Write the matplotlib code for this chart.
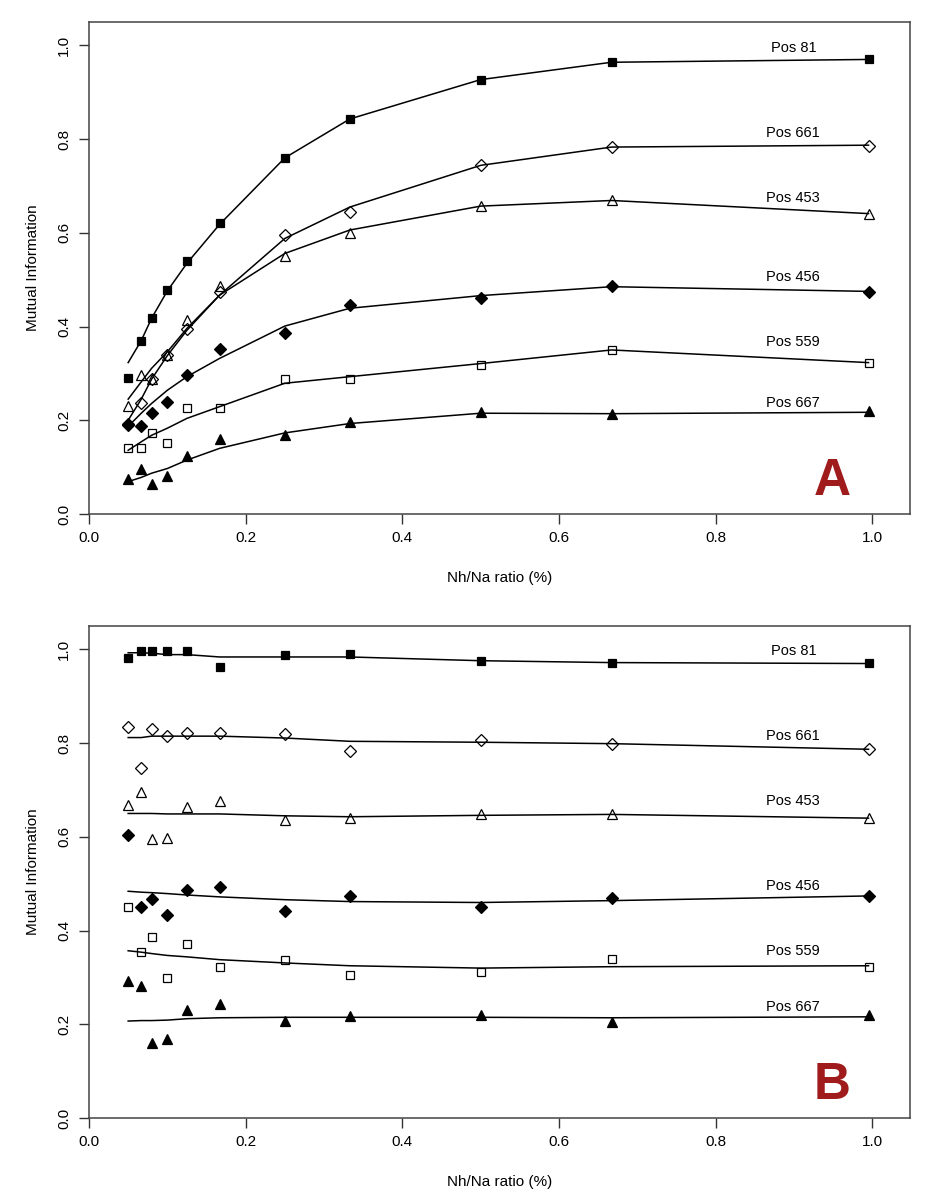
import matplotlib.pyplot as plt

plt.rcParams['font.family'] = ['Liberation Sans', 'DejaVu Sans']

# x positions (Nh/Na ratio)
ratio = [0.05, 0.0667, 0.08, 0.1, 0.125, 0.1667, 0.25, 0.333, 0.5, 0.667, 0.995]

names = ['Pos 81', 'Pos 661', 'Pos 453', 'Pos 456', 'Pos 559', 'Pos 667']

# panel A - observed points
a_pos81 = [0.291, 0.370, 0.419, 0.478, 0.540, 0.621, 0.760, 0.843, 0.927, 0.964, 0.970]
a_pos661 = [0.193, 0.236, 0.288, 0.339, 0.394, 0.474, 0.595, 0.644, 0.744, 0.783, 0.786]
a_pos453 = [0.231, 0.296, 0.288, 0.339, 0.414, 0.487, 0.550, 0.600, 0.657, 0.669, 0.641]
a_pos456 = [0.190, 0.188, 0.215, 0.238, 0.297, 0.351, 0.387, 0.447, 0.460, 0.487, 0.474]
a_pos559 = [0.141, 0.141, 0.172, 0.152, 0.226, 0.227, 0.289, 0.289, 0.317, 0.350, 0.323]
a_pos667 = [0.074, 0.095, 0.063, 0.080, 0.124, 0.159, 0.168, 0.197, 0.218, 0.213, 0.220]

# panel A - fitted curves
a_fit81 = [0.323, 0.370, 0.418, 0.476, 0.535, 0.618, 0.760, 0.843, 0.927, 0.964, 0.970]
a_fit661 = [0.200, 0.245, 0.288, 0.338, 0.392, 0.467, 0.588, 0.655, 0.744, 0.783, 0.787]
a_fit453 = [0.245, 0.282, 0.311, 0.346, 0.396, 0.467, 0.556, 0.606, 0.657, 0.669, 0.641]
a_fit456 = [0.187, 0.215, 0.236, 0.264, 0.293, 0.332, 0.401, 0.439, 0.466, 0.485, 0.475]
a_fit559 = [0.136, 0.154, 0.168, 0.183, 0.204, 0.229, 0.279, 0.293, 0.321, 0.350, 0.323]
a_fit667 = [0.069, 0.078, 0.087, 0.097, 0.115, 0.140, 0.173, 0.193, 0.215, 0.214, 0.217]

# panel B - observed points
b_pos81 = [0.982, 0.996, 0.996, 0.996, 0.996, 0.962, 0.989, 0.991, 0.976, 0.972, 0.972]
b_pos661 = [0.834, 0.748, 0.830, 0.816, 0.822, 0.822, 0.819, 0.783, 0.807, 0.798, 0.787]
b_pos453 = [0.669, 0.695, 0.595, 0.597, 0.664, 0.677, 0.635, 0.641, 0.649, 0.649, 0.640]
b_pos456 = [0.603, 0.450, 0.467, 0.433, 0.487, 0.493, 0.442, 0.474, 0.451, 0.469, 0.474]
b_pos559 = [0.451, 0.354, 0.386, 0.298, 0.372, 0.323, 0.338, 0.305, 0.311, 0.340, 0.323]
b_pos667 = [0.293, 0.282, 0.160, 0.169, 0.231, 0.243, 0.207, 0.218, 0.220, 0.206, 0.220]

# panel B - fitted curves
b_fit81 = [0.993, 0.993, 0.992, 0.989, 0.989, 0.984, 0.984, 0.984, 0.976, 0.972, 0.970]
b_fit661 = [0.812, 0.812, 0.815, 0.815, 0.815, 0.815, 0.811, 0.804, 0.802, 0.799, 0.787]
b_fit453 = [0.650, 0.650, 0.650, 0.649, 0.649, 0.649, 0.645, 0.643, 0.646, 0.648, 0.640]
b_fit456 = [0.484, 0.482, 0.481, 0.479, 0.476, 0.472, 0.466, 0.462, 0.460, 0.464, 0.474]
b_fit559 = [0.357, 0.354, 0.351, 0.347, 0.344, 0.338, 0.331, 0.325, 0.320, 0.323, 0.325]
b_fit667 = [0.207, 0.208, 0.208, 0.209, 0.212, 0.214, 0.215, 0.215, 0.215, 0.214, 0.216]

# label heights
a_label_y = [0.995, 0.814, 0.674, 0.506, 0.366, 0.236]
b_label_y = [0.996, 0.816, 0.676, 0.496, 0.357, 0.236]

markers = [('s', 'black'), ('D', 'none'), ('^', 'none'), ('D', 'black'), ('s', 'none'), ('^', 'black')]
msizes = [5.8, 5.8, 6.5, 5.8, 5.8, 6.5]

fig = plt.figure(figsize=(9.29, 12), dpi=100)
axA = fig.add_axes([0.0958, 0.5717, 0.8838, 0.41])
axB = fig.add_axes([0.0958, 0.0683, 0.8838, 0.41])

panels = [
    (axA, [a_pos81, a_pos661, a_pos453, a_pos456, a_pos559, a_pos667],
     [a_fit81, a_fit661, a_fit453, a_fit456, a_fit559, a_fit667], a_label_y, 'A'),
    (axB, [b_pos81, b_pos661, b_pos453, b_pos456, b_pos559, b_pos667],
     [b_fit81, b_fit661, b_fit453, b_fit456, b_fit559, b_fit667], b_label_y, 'B'),
]

for ax, pts, fits, laby, letter in panels:
    for i in range(len(names)):
        ax.plot(ratio, fits[i], color='black', lw=1.1, zorder=2)
        m, fc = markers[i]
        ax.plot(ratio, pts[i], linestyle='none', marker=m, markersize=msizes[i],
                markerfacecolor=fc, markeredgecolor='black', markeredgewidth=0.9, zorder=3)
        ax.text(0.899, laby[i], names[i], ha='center', va='center', fontsize=10.5)
    ax.text(0.949, 0.069, letter, ha='center', va='center', fontsize=37,
            fontweight='bold', color='#a01c1c')
    ax.set_xlim(0, 1.048)
    ax.set_ylim(0, 1.05)
    ax.set_xticks([0.0, 0.2, 0.4, 0.6, 0.8, 1.0])
    ax.set_yticks([0.0, 0.2, 0.4, 0.6, 0.8, 1.0])
    ax.set_xticklabels(['0.0', '0.2', '0.4', '0.6', '0.8', '1.0'])
    ax.set_yticklabels(['0.0', '0.2', '0.4', '0.6', '0.8', '1.0'], rotation=90, va='center')
    ax.tick_params(direction='out', length=7, width=1, labelsize=11, colors='#333333',
                   labelcolor='black')
    ax.tick_params(axis='x', pad=5)
    ax.tick_params(axis='y', pad=6)
    for s in ax.spines.values():
        s.set_linewidth(1.1)
        s.set_color('#444444')
    ax.set_xlabel('Nh/Na ratio (%)', fontsize=11, labelpad=19)
    ax.set_ylabel('Mutual Information', fontsize=11, labelpad=12)

fig.savefig('out.png', dpi=100)
